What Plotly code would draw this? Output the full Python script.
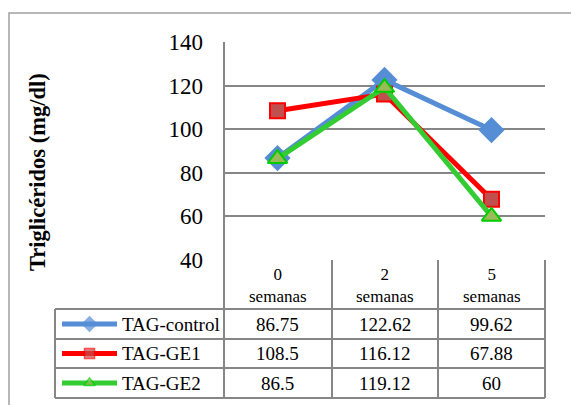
import plotly.graph_objects as go

weeks = ["0", "2", "5"]
week_word = "semanas"
series_names = ["TAG-control", "TAG-GE1", "TAG-GE2"]
tag_control = [86.75, 122.62, 99.62]
tag_ge1 = [108.5, 116.12, 67.88]
tag_ge2 = [86.5, 119.12, 60]
y_title = "Triglicéridos (mg/dl)"
y_ticks = [40, 60, 80, 100, 120, 140]

W, H = 571, 405
FONT = "Liberation Serif"

def px(x):
    return x / W

def py(y):
    return 1 - y / H

styles = [
    dict(line="#558ED5", fill="#558ED5", border="#558ED5", symbol="diamond", size=18, lsize=11),
    dict(line="#FF0000", fill="#C0504D", border="#FF0000", symbol="square", size=15, lsize=10),
    dict(line="#33CC33", fill="#9BBB59", border="#00CC00", symbol="triangle-up", size=17, lsize=10),
]
values = [tag_control, tag_ge1, tag_ge2]

fig = go.Figure()
xs = list(range(len(weeks)))
for name, vals, st in zip(series_names, values, styles):
    fig.add_trace(go.Scatter(
        x=xs, y=vals, name=name, mode="lines+markers",
        line=dict(color=st["line"], width=5),
        marker=dict(symbol=st["symbol"], size=st["size"], color=st["fill"],
                    line=dict(color=st["border"], width=2)),
        xaxis="x", yaxis="y", showlegend=False, hoverinfo="skip",
    ))

# table geometry (pixels)
plot_l, plot_r, plot_t, plot_b = 224, 545, 42, 260
tab_l = 55
hdr_b = 309
row_lines = [309, 339, 368, 398]
row_centers = [(row_lines[i] + row_lines[i + 1]) / 2 for i in range(3)]
bounds = [224, 332, 438, 545]

# legend keys in table (full-page auxiliary axes in pixel coordinates)
for i, st in enumerate(styles):
    yc = row_centers[i]
    fig.add_trace(go.Scatter(
        x=[62, 89.5, 117], y=[yc, yc, yc], mode="lines+markers",
        line=dict(color=st["line"], width=5),
        marker=dict(symbol=st["symbol"], size=[0, st["lsize"], 0], color=st["fill"],
                    line=dict(color=st["border"], width=[0, 1.5, 0])),
        xaxis="x2", yaxis="y2", showlegend=False, hoverinfo="skip",
    ))

grid_col = "#868686"
shapes = []
def line(x0, y0, x1, y1, w=2, c=grid_col):
    shapes.append(dict(type="line", xref="paper", yref="paper",
                       x0=px(x0), y0=py(y0), x1=px(x1), y1=py(y1),
                       line=dict(color=c, width=w)))

# outer border
shapes.append(dict(type="rect", xref="paper", yref="paper",
                   x0=px(9), y0=py(13), x1=px(W + 20), y1=py(H + 20),
                   line=dict(color="#A0A0A0", width=1.5)))
# table lines
line(plot_l, plot_t, plot_l, row_lines[-1])
for b in bounds[1:]:
    line(b, plot_b, b, row_lines[-1])
line(tab_l, hdr_b, tab_l, row_lines[-1])
for r in row_lines:
    line(tab_l, r, plot_r, r)

annotations = []
# header
for i, w in enumerate(weeks):
    annotations.append(dict(x=i, y=py(285), xref="x", yref="paper",
                            xanchor="center", yanchor="middle",
                            text=f"{w}<br>{week_word}", showarrow=False,
                            font=dict(family=FONT, size=17, color="black"),
                            align="center"))
# row labels and values
for r, (name, vals) in enumerate(zip(series_names, values)):
    annotations.append(dict(x=px(120), y=py(row_centers[r]), xref="paper", yref="paper",
                            text=name, showarrow=False, xanchor="left", yanchor="middle",
                            font=dict(family=FONT, size=19, color="black")))
    for i, v in enumerate(vals):
        annotations.append(dict(x=i, y=py(row_centers[r]), xref="x", yref="paper",
                                xanchor="center", yanchor="middle",
                                text=f"{v:g}", showarrow=False,
                                font=dict(family=FONT, size=19, color="black")))
# y title
annotations.append(dict(x=px(37), y=py(172), xref="paper", yref="paper",
                        xanchor="center", yanchor="middle",
                        text=f"<b>{y_title}</b>", textangle=-90, showarrow=False,
                        font=dict(family=FONT, size=22.5, color="black")))

fig.update_layout(
    width=W, height=H,
    font=dict(family=FONT, color="black"),
    margin=dict(l=0, r=0, t=0, b=0, pad=0, autoexpand=False),
    paper_bgcolor="white", plot_bgcolor="rgba(0,0,0,0)",
    xaxis=dict(domain=[px(plot_l), px(plot_r)], range=[-0.5, 2.5], anchor="y",
               showticklabels=False, showgrid=False, zeroline=False, fixedrange=True),
    yaxis=dict(domain=[py(plot_b), py(plot_t)], range=[40, 140], tickvals=y_ticks,
               anchor="x",
               showgrid=True, gridcolor=grid_col, gridwidth=2, zeroline=False,
               ticks="", ticklabelstandoff=20,
               tickfont=dict(family=FONT, size=23, color="black")),
    xaxis2=dict(domain=[0, 1], range=[0, W], visible=False, anchor="y2"),
    yaxis2=dict(domain=[0, 1], range=[H, 0], visible=False, anchor="x2"),
    shapes=shapes, annotations=annotations,
)

fig.write_html("out.html", config={"displayModeBar": False},
               post_script="document.body.style.margin='0px';")
